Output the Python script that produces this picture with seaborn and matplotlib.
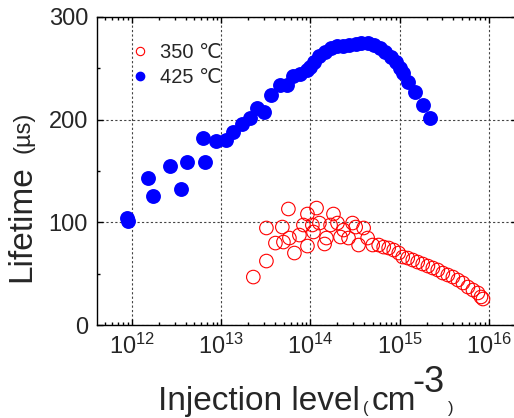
import numpy as np
import pandas as pd
import seaborn as sns
import matplotlib.pyplot as plt
from matplotlib.ticker import LogLocator, NullFormatter, MultipleLocator
import matplotlib.lines as mlines

# ---- data ----
x_425 = [8.8e11, 9.0e11, 1.5e12, 1.7e12, 2.7e12, 3.5e12, 4.1e12, 6.6e12, 6.3e12,
         8.8e12, 1.13e13, 1.36e13, 1.7e13, 2.1e13, 2.5e13, 3.0e13, 3.6e13, 4.5e13,
         5.4e13, 6.3e13, 7.7e13, 9.2e13, 1.0e14, 1.1e14, 1.26e14, 1.47e14, 1.72e14,
         2.0e14, 2.3e14, 2.7e14, 3.2e14, 3.7e14, 4.4e14, 5.1e14, 6.0e14, 6.8e14,
         7.9e14, 9.0e14, 1.0e15, 1.1e15, 1.25e15, 1.5e15, 1.8e15, 2.2e15]
y_425 = [104, 101, 143, 126, 155, 132, 159, 159, 182,
         179, 180, 188, 196, 202, 211, 207, 224, 234,
         234, 243, 244, 248, 251, 256, 262, 266, 270,
         272, 272, 273, 274, 275, 275, 273, 270, 266,
         261, 256, 250, 245, 237, 227, 214, 202]

x_350 = [2.29e13, 3.21e13, 3.21e13, 4.05e13, 4.84e13, 4.98e13, 5.66e13, 5.81e13,
         6.61e13, 7.52e13, 8.34e13, 9.25e13, 9.25e13, 1.05e14, 1.08e14, 1.17e14,
         1.26e14, 1.44e14, 1.51e14, 1.68e14, 1.81e14, 2.01e14, 2.17e14, 2.35e14,
         2.67e14, 2.96e14, 3.21e14, 3.46e14, 3.94e14, 4.37e14, 4.98e14, 5.81e14,
         6.61e14, 7.52e14, 8.57e14, 9.75e14, 1.08e15, 1.23e15, 1.40e15, 1.59e15,
         1.81e15, 2.07e15, 2.35e15, 2.67e15, 3.04e15, 3.46e15, 3.94e15, 4.49e15,
         5.11e15, 5.81e15, 6.61e15, 7.52e15, 8.13e15, 8.57e15]
y_350 = [46.7, 62.3, 94.5, 79.8, 95.4, 80.8, 113.0, 84.7,
         70.1, 87.6, 97.4, 76.9, 108.1, 97.4, 90.6, 113.9,
         99.3, 78.9, 84.7, 97.4, 108.1, 99.3, 85.7, 92.5,
         84.7, 99.3, 95.4, 77.9, 94.5, 84.7, 77.9, 77.9,
         75.9, 75.0, 73.0, 70.1, 66.2, 65.2, 63.3, 61.3,
         59.4, 57.4, 55.5, 53.6, 50.6, 48.7, 46.7, 43.8,
         40.9, 37.0, 34.1, 31.2, 27.3, 25.3]

labels = ["350 \u2103", "425 \u2103"]
xticks = [1e12, 1e13, 1e14, 1e15, 1e16]
yticks = [0, 100, 200, 300]

df350 = pd.DataFrame({"x": x_350, "y": y_350})
df425 = pd.DataFrame({"x": x_425, "y": y_425})

sns.set_style("ticks")
plt.rcParams["font.family"] = ["Liberation Sans", "DejaVu Sans"]

fig = plt.figure(figsize=(5.14, 4.18), dpi=100)
ax = fig.add_axes([97 / 514, 1 - 325 / 418, 420 / 514, 308 / 418])

sns.scatterplot(data=df350, x="x", y="y", ax=ax, marker="o", s=95,
                facecolor="none", edgecolor="#ff0000", linewidth=0.8, zorder=3)
sns.scatterplot(data=df425, x="x", y="y", ax=ax, marker="o", s=115,
                color="#0000ff", edgecolor="#0000ff", linewidth=0, zorder=4)

ax.set_xscale("log")
ax.set_xlim(4.06e11, 2.06e16)
ax.set_ylim(0, 300)
ax.set_xticks(xticks)
ax.set_yticks(yticks)
ax.xaxis.set_minor_locator(LogLocator(base=10, subs=np.arange(2, 10), numticks=20))
ax.xaxis.set_minor_formatter(NullFormatter())
ax.yaxis.set_minor_locator(MultipleLocator(50))
ax.tick_params(which="both", direction="in", top=True, right=True,
               labelsize=17, width=1.0, color="black")
ax.tick_params(which="major", length=4)
ax.tick_params(which="minor", length=2.5)
ax.tick_params(axis="y", pad=6.5)
ax.tick_params(axis="x", pad=6)
for sp in ax.spines.values():
    sp.set_linewidth(1.0)
    sp.set_color("black")
ax.grid(True, which="major", linestyle=(0, (2, 2)), color="#444444", linewidth=0.8)
ax.set_xlabel("")
ax.set_ylabel("")

# legend
h350 = mlines.Line2D([], [], marker="o", linestyle="None", markersize=6,
                     markerfacecolor="none", markeredgecolor="#ff0000", markeredgewidth=0.8)
h425 = mlines.Line2D([], [], marker="o", linestyle="None", markersize=6,
                     markerfacecolor="#0000ff", markeredgecolor="#0000ff")
ax.legend(handles=[h350, h425], labels=labels, loc="upper left",
          bbox_to_anchor=(0.035, 0.975), frameon=False, fontsize=14.5,
          handlelength=1.0, handletextpad=0.5, labelspacing=0.3)

# axis labels, pieced together
W, H = 514, 418
fig.text(22 / W, 1 - 282 / H, "Lifetime", rotation=90, fontsize=24,
         ha="center", va="bottom")
fig.text(23 / W, 1 - 153 / H, "(\u00b5s)", rotation=90, fontsize=17,
         ha="center", va="bottom")
fig.text(158 / W, 1 - 410 / H, "Injection level", fontsize=24, ha="left", va="baseline")
fig.text(363 / W, 1 - 413 / H, "(", fontsize=12, ha="left", va="baseline")
fig.text(372 / W, 1 - 410 / H, "cm", fontsize=24, ha="left", va="baseline")
fig.text(412 / W, 1 - 392 / H, "-3", fontsize=26, ha="left", va="baseline")
fig.text(448 / W, 1 - 413 / H, ")", fontsize=12, ha="left", va="baseline")

fig.savefig("out.png", dpi=100)
